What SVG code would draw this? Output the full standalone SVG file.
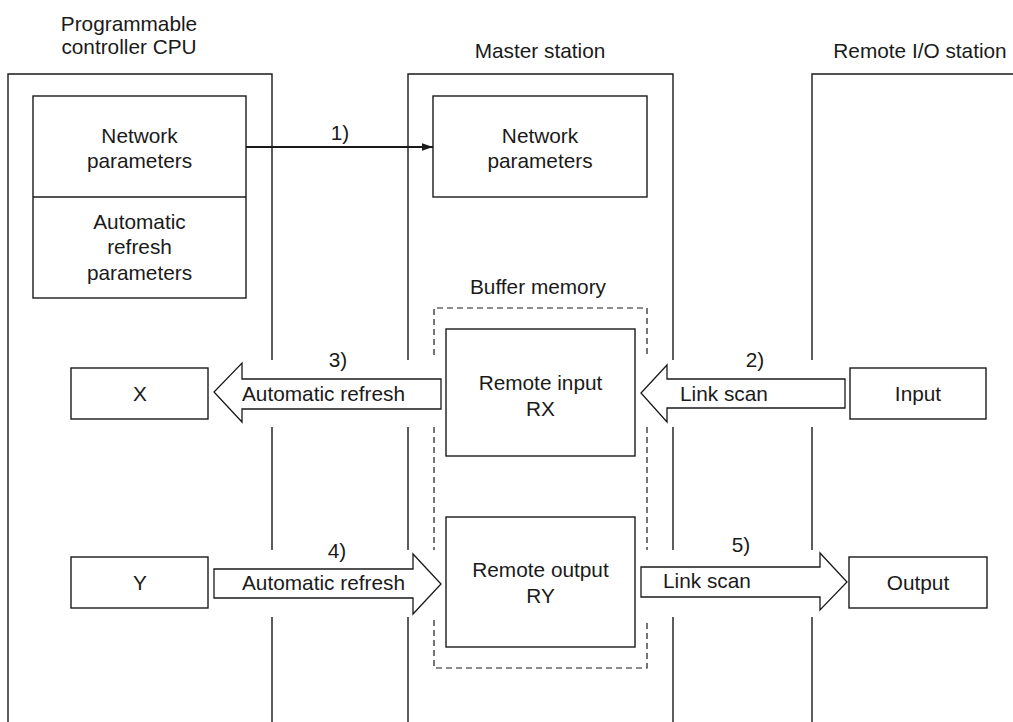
<svg xmlns="http://www.w3.org/2000/svg" width="1013" height="722" viewBox="0 0 1013 722">
<defs>
<style>
.ln{fill:none;stroke:#1a1a1a;stroke-width:1.4}
.box{fill:#fff;stroke:#1a1a1a;stroke-width:1.4}
.dash{fill:none;stroke:#1a1a1a;stroke-width:1.2;stroke-dasharray:6 4}
.blk{fill:#fff;stroke:#1a1a1a;stroke-width:1.3;stroke-linejoin:miter}
.conn{fill:none;stroke:#1a1a1a;stroke-width:1.8}
text{font-family:"Liberation Sans",Arial,sans-serif;font-size:20.8px;fill:#1a1a1a}
.c{text-anchor:middle}
</style>
<marker id="ah" viewBox="0 0 10 10" refX="10" refY="5" markerWidth="11" markerHeight="11" markerUnits="userSpaceOnUse" orient="auto">
<path d="M0,1.5 L10,5 L0,8.5 Z" fill="#1a1a1a"/>
</marker>
</defs>
<rect width="1013" height="722" fill="#fff"/>

<g id="cpu-station">
<text class="c" x="129" y="31">Programmable</text>
<text class="c" x="129" y="54">controller CPU</text>
<path class="ln" d="M8,722 V74 H272 V360 M272,427 V550 M272,617 V722"/>
</g>

<g id="master-station">
<text class="c" x="540" y="58">Master station</text>
<path class="ln" d="M408,360 V74 H673 V360 M408,427 V550 M673,427 V550 M408,617 V722 M673,617 V722"/>
</g>

<g id="remote-station">
<text class="c" x="920" y="58">Remote I/O station</text>
<path class="ln" d="M812,360 V74 H1013 M812,427 V550 M812,617 V722"/>
</g>

<g id="cpu-params">
<rect class="box" x="33" y="96" width="213" height="202"/>
<line class="ln" x1="33" y1="197" x2="246" y2="197"/>
<text class="c" x="139.5" y="143">Network</text>
<text class="c" x="139.5" y="168">parameters</text>
<text class="c" x="139.5" y="229">Automatic</text>
<text class="c" x="139.5" y="254">refresh</text>
<text class="c" x="139.5" y="280">parameters</text>
</g>

<g id="master-params">
<rect class="box" x="433" y="96" width="214" height="101"/>
<text class="c" x="540" y="143">Network</text>
<text class="c" x="540" y="168">parameters</text>
</g>

<g id="buffer-memory">
<text class="c" x="538" y="294">Buffer memory</text>
<path class="dash" d="M434,355 V308 H647 V355 M434,427 V550 M647,427 V550 M434,620 V668 H647 V620"/>
</g>

<g id="remote-input">
<rect class="box" x="446" y="329" width="189" height="127"/>
<text class="c" x="540.5" y="390">Remote input</text>
<text class="c" x="540.5" y="416">RX</text>
</g>

<g id="remote-output">
<rect class="box" x="446" y="517" width="189" height="130"/>
<text class="c" x="540.5" y="577">Remote output</text>
<text class="c" x="540.5" y="603">RY</text>
</g>

<g id="x-device">
<rect class="box" x="71" y="368" width="137" height="51"/>
<text class="c" x="140" y="401">X</text>
</g>

<g id="y-device">
<rect class="box" x="71" y="557" width="137" height="51"/>
<text class="c" x="140" y="590">Y</text>
</g>

<g id="input">
<rect class="box" x="850" y="368" width="136" height="51"/>
<text class="c" x="918" y="401">Input</text>
</g>

<g id="output">
<rect class="box" x="849" y="557" width="138" height="51"/>
<text class="c" x="918" y="590">Output</text>
</g>

<g id="connectors">
<line class="conn" x1="246" y1="147" x2="433" y2="147" marker-end="url(#ah)"/>
<text class="c" x="340" y="140">1)</text>

<path class="blk" d="M845,379 H667 V365 L641,393 L667,422 V408 H845 Z"/>
<text x="680" y="401">Link scan</text>
<text class="c" x="755" y="367">2)</text>

<path class="blk" d="M441,379 H242 V363 L214,392 L242,422 V409 H441 Z"/>
<text x="242" y="401">Automatic refresh</text>
<text class="c" x="338" y="367">3)</text>

<path class="blk" d="M214,569 H413 V554 L441,584 L413,614 V598 H214 Z"/>
<text x="242" y="590">Automatic refresh</text>
<text class="c" x="337" y="558">4)</text>

<path class="blk" d="M641,567 H820 V553 L847,582 L820,610 V597 H641 Z"/>
<text x="663" y="588">Link scan</text>
<text class="c" x="741" y="552">5)</text>
</g>
</svg>
